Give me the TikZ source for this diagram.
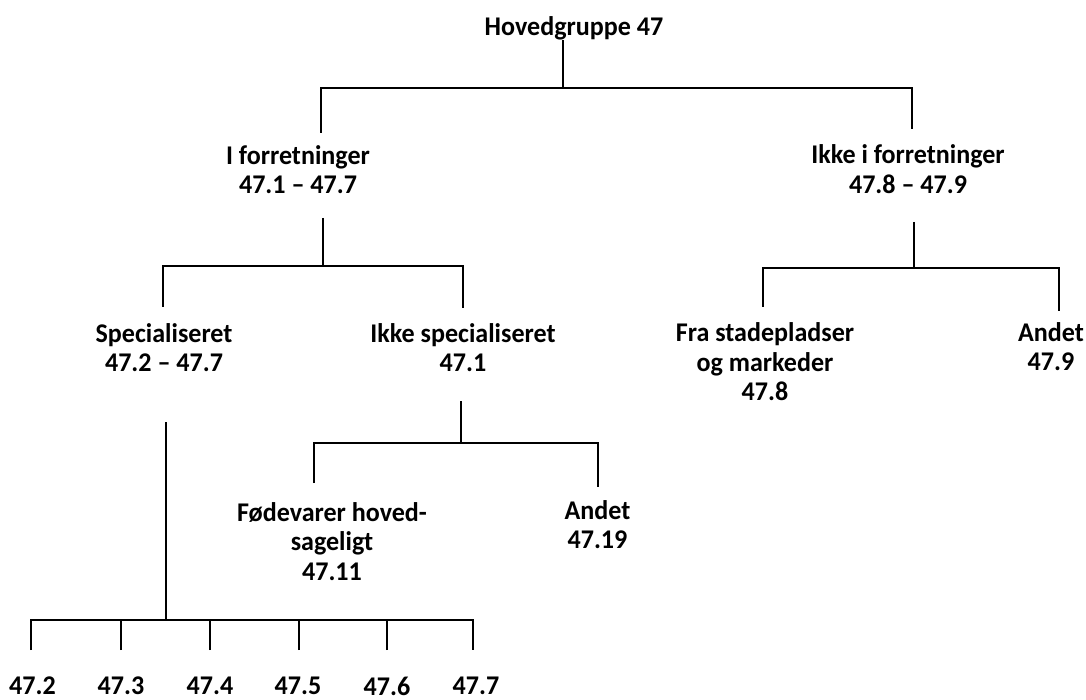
\documentclass[tikz,border=0pt]{standalone}
\usepackage{fontspec}
\setmainfont{Carlito}[Numbers=Lining, FakeStretch=0.965]
\newcommand\ls{\rule[-6pt]{0pt}{20pt}}
\begin{document}
\begin{tikzpicture}[x=1pt,y=-1pt,
  lab/.style={font=\fontsize{27}{29.5}\selectfont\bfseries, align=center, inner sep=0pt, anchor=north},
  conn/.style={line width=1.6pt, line cap=butt, line join=miter}]
\useasboundingbox (0,0) rectangle (1086,700);
% ---- nodes
\node[lab] (hg)  at (574,16.7)  {\ls Hovedgruppe 47};
\node[lab] (if)  at (298,145)   {\ls I forretninger\\\ls 47.1 – 47.7};
\node[lab] (iif) at (908,144.5) {\ls Ikke i forretninger\\\ls 47.8 – 47.9};
\node[lab] (sp)  at (164,323)   {\ls Specialiseret\\\ls 47.2 – 47.7};
\node[lab] (isp) at (463,323)   {\ls Ikke specialiseret\\\ls 47.1};
\node[lab] (fra) at (765,322.7) {\ls Fra stadepladser\\\ls og markeder\\\ls 47.8};
\node[lab] (an1) at (1051,322)  {\ls Andet\\\ls 47.9};
\node[lab] (fv)  at (332,502)   {\ls Fødevarer hoved-\\\ls sageligt\\\ls 47.11};
\node[lab] (an2) at (597.5,500) {\ls Andet\\\ls 47.19};
\node[lab] (l2) at (32.5,676.5) {\ls 47.2};
\node[lab] (l3) at (121,676.5)  {\ls 47.3};
\node[lab] (l4) at (210,676.5)  {\ls 47.4};
\node[lab] (l5) at (298,676.5)  {\ls 47.5};
\node[lab] (l6) at (387,676.5)  {\ls 47.6};
\node[lab] (l7) at (476,676.5)  {\ls 47.7};
% ---- connector points
\coordinate (hgS) at (563,40);   \coordinate (hgB) at (563,88);
\coordinate (b1L) at (321,88);   \coordinate (b1R) at (912,88);
\coordinate (ifT) at (321,133);  \coordinate (iifT) at (912,129);
\coordinate (ifS) at (323,218);  \coordinate (ifB) at (323,266);
\coordinate (b2L) at (163,266);  \coordinate (b2R) at (463,266);
\coordinate (spT) at (163,307);  \coordinate (ispT) at (463,308);
\coordinate (iifS) at (914,222); \coordinate (iifB) at (914,268);
\coordinate (b3L) at (763,268);  \coordinate (b3R) at (1059,268);
\coordinate (fraT) at (763,307); \coordinate (an1T) at (1059,311);
\coordinate (ispS) at (461,401); \coordinate (ispB) at (461,443);
\coordinate (b4L) at (314,443);  \coordinate (b4R) at (598,443);
\coordinate (fvT) at (314,483);  \coordinate (an2T) at (598,487);
\coordinate (spS) at (166,422);  \coordinate (spB) at (166,620);
\coordinate (b5L) at (31,620);   \coordinate (b5R) at (473,620);
\coordinate (l2T) at (31,650);   \coordinate (l3T) at (121,650);
\coordinate (l4T) at (210,650);  \coordinate (l5T) at (299,650);
\coordinate (l6T) at (387,650);  \coordinate (l7T) at (473,650);
% ---- connectors
\draw[conn] (hgS) -- (hgB);
\draw[conn] (ifT) -- (b1L) -- (b1R) -- (iifT);
\draw[conn] (ifS) -- (ifB);
\draw[conn] (spT) -- (b2L) -- (b2R) -- (ispT);
\draw[conn] (iifS) -- (iifB);
\draw[conn] (fraT) -- (b3L) -- (b3R) -- (an1T);
\draw[conn] (ispS) -- (ispB);
\draw[conn] (fvT) -- (b4L) -- (b4R) -- (an2T);
\draw[conn] (spS) -- (spB);
\draw[conn] (l2T) -- (b5L) -- (b5R) -- (l7T);
\draw[conn] (l3T) -- (l3T |- b5L);
\draw[conn] (l4T) -- (l4T |- b5L);
\draw[conn] (l5T) -- (l5T |- b5L);
\draw[conn] (l6T) -- (l6T |- b5L);
\end{tikzpicture}
\end{document}
